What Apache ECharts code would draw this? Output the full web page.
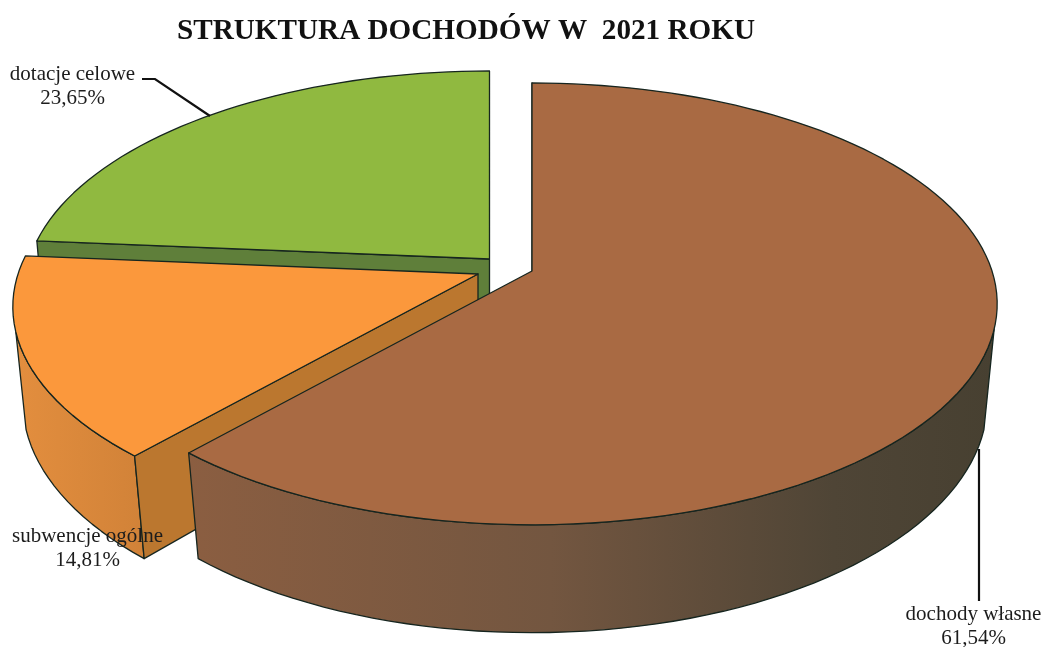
<!DOCTYPE html>
<html><head><meta charset="utf-8">
<style>html,body{margin:0;padding:0;background:#fff}#c{width:1042px;height:647px}</style>
<script src="https://cdn.jsdelivr.net/npm/echarts@6/dist/echarts.min.js"></script>
</head><body><div id="c"></div>
<script>
const titleText = 'STRUKTURA DOCHODÓW W  2021 ROKU';
const categories = ['dochody własne', 'subwencje ogólne', 'dotacje celowe'];
const shares = [61.54, 14.81, 23.65];

// layout of the perspective disc
const apexes = [[532, 271], [478, 274], [489.5, 259]];
const depths = [98, 95, 98];
const topRim = {a: 460, b: 216, k: 0.149};
const botRim = {a: 451, b: 227, k: 0.139};
const frontFacing = [105, 255];
const drawZ = [30, 20, 10];
const topColors = ['#a96a43', '#fb983c', '#90b940'];
const sideColors = [
  [[0, '#8b5e41'], [0.45, '#735640'], [0.8, '#4f4536'], [1, '#474031']],
  [[0, '#e38e3e'], [1, '#d18238']],
  [[0, '#5f7f3a'], [1, '#5f7f3a']]
];
const radialColors = ['#4a4233', '#bb772f', '#5f7f3a'];
const edge = '#16251f';
const labelCenters = [[973.5, 602], [87.5, 524], [72.5, 62]];
const leaders = [
  [[979, 449], [979, 601]],
  null,
  [[142, 79], [155, 79], [210, 116]]
];

const total = shares.reduce((s, v) => s + v, 0);
const proj = (rim, apex, dy, deg) => {
  const t = deg * Math.PI / 180, u = Math.sin(t), v = Math.cos(t), w = 1 + rim.k * v;
  return [apex[0] + rim.a * u / w, apex[1] + dy - rim.b * v / w];
};
const arc = (rim, apex, dy, a0, a1) => {
  const n = Math.max(2, Math.ceil((a1 - a0) / 2)), pts = [];
  for (let i = 0; i <= n; i++) pts.push(proj(rim, apex, dy, a0 + (a1 - a0) * i / n));
  return pts;
};
const renderItem = (params, api) => {
  const i = params.dataIndex;
  let start = 0;
  for (let j = 0; j < i; j++) start += shares[j];
  const a0 = start / total * 360, a1 = a0 + api.value(0) / total * 360;
  const ap = apexes[i], z = drawZ[i], depth = depths[i];
  const top = arc(topRim, ap, 0, a0, a1);
  const stroke = {stroke: edge, lineWidth: 1.3, lineJoin: 'round'};
  const grad = {type: 'linear', x: 0, y: 0, x2: 1, y2: 0,
    colorStops: sideColors[i].map(s => ({offset: s[0], color: s[1]}))};
  const apBot = [ap[0], ap[1] + depth];
  const children = [];
  const w0 = Math.max(a0, frontFacing[0]), w1 = Math.min(a1, frontFacing[1]);
  if (w1 > w0) {
    const wallTop = arc(topRim, ap, 0, w0, w1);
    const wallBot = arc(botRim, ap, depth, w0, w1);
    children.push({type: 'polygon', z2: z, shape: {points: wallTop.concat(wallBot.reverse())},
      style: Object.assign({fill: grad}, stroke)});
  }
  children.push({type: 'polygon', z2: z + 1,
    shape: {points: [ap, top[0], proj(botRim, ap, depth, a0), apBot]},
    style: Object.assign({fill: radialColors[i]}, stroke)});
  children.push({type: 'polygon', z2: z + 2, shape: {points: [ap].concat(top)},
    style: Object.assign({fill: topColors[i]}, stroke)});
  if (leaders[i]) children.push({type: 'polyline', z2: 50, shape: {points: leaders[i]},
    style: {stroke: '#111', lineWidth: 2.2, fill: null}});
  children.push({type: 'text', z2: 60, x: labelCenters[i][0], y: labelCenters[i][1], style: {
    text: categories[i] + '\n' + api.value(0).toFixed(2).replace('.', ',') + '%',
    fill: '#1c1c1c', font: '21px "Liberation Serif"', align: 'center', verticalAlign: 'top', lineHeight: 24
  }});
  return {type: 'group', children};
};
const chart = echarts.init(document.getElementById('c'), null, {renderer: 'canvas'});
chart.setOption({
  animation: false,
  backgroundColor: '#fff',
  title: {text: titleText, left: 461, top: 12, textAlign: 'center',
    textStyle: {fontFamily: 'Liberation Serif', fontWeight: 'bold', fontSize: 29.2, color: '#111'}},
  series: [{type: 'custom', coordinateSystem: 'none', clip: false, renderItem,
    data: shares.map((v, i) => ({name: categories[i], value: [v]}))}]
});
</script></body></html>
